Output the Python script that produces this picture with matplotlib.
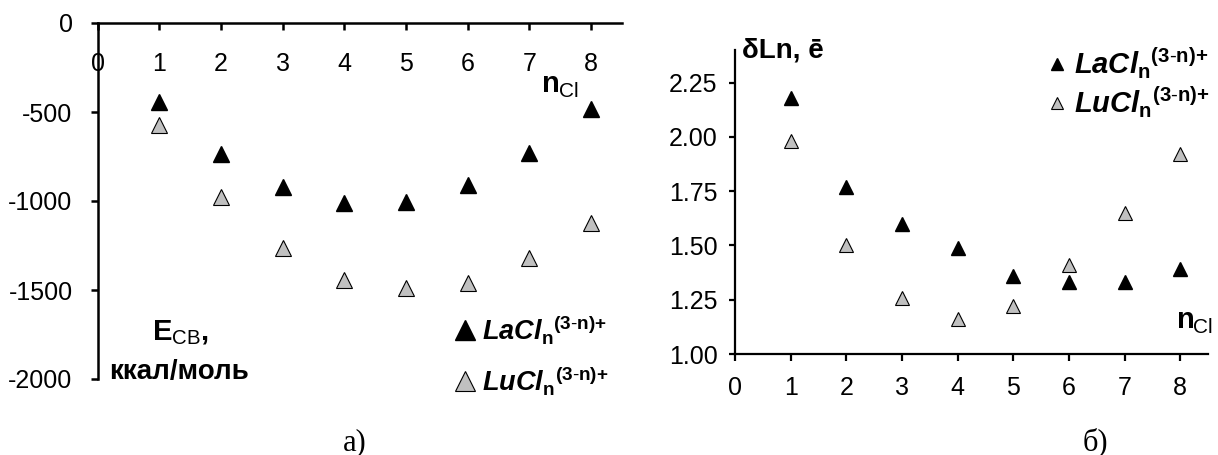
import matplotlib
matplotlib.use("Agg")
import matplotlib.pyplot as plt
from matplotlib.ticker import FormatStrFormatter

plt.rcParams['font.family'] = ['Liberation Sans', 'DejaVu Sans']
plt.rcParams['axes.unicode_minus'] = False
plt.rcParams['mathtext.fontset'] = 'custom'
plt.rcParams['mathtext.rm'] = 'Liberation Sans'
plt.rcParams['mathtext.bf'] = 'Liberation Sans:bold'
plt.rcParams['mathtext.it'] = 'Liberation Sans:italic'
plt.rcParams['mathtext.bfit'] = 'Liberation Sans:italic:bold'

# данные
n_cl = [1, 2, 3, 4, 5, 6, 7, 8]
e_la = [-445, -735, -921, -1013, -1006, -910, -729, -484]
e_lu = [-574, -976, -1265, -1443, -1490, -1462, -1318, -1121]
q_la = [2.18, 1.77, 1.60, 1.49, 1.36, 1.33, 1.33, 1.39]
q_lu = [1.98, 1.50, 1.26, 1.16, 1.22, 1.41, 1.65, 1.92]
x_ticks = [0, 1, 2, 3, 4, 5, 6, 7, 8]
e_ticks = [0, -500, -1000, -1500, -2000]
q_ticks = [1.00, 1.25, 1.50, 1.75, 2.00, 2.25]

lab_la = r'$\mathbfit{LaCl}_{\mathbf{n}}{}^{\mathbf{(3\text{-}n){+}}}$'
lab_lu = r'$\mathbfit{LuCl}_{\mathbf{n}}{}^{\mathbf{(3\text{-}n){+}}}$'

W, H = 1218, 455
fig = plt.figure(figsize=(W / 100, H / 100), dpi=100)

def px(x, y):
    return x / W, 1 - y / H

gray = '#c0c0c0'

# а) энергия связи
ax1 = fig.add_axes([97.5 / W, (H - 379) / H, (622 - 97.5) / W, (379 - 23) / H])
ax1.plot(n_cl, e_la, '^', ms=12, color='black', mec='black', label=lab_la)
ax1.plot(n_cl, e_lu, '^', ms=12, color=gray, mec='black', mew=0.8, label=lab_lu)
ax1.set_xlim(0, 8.5)
ax1.set_ylim(-2000, 0)
ax1.spines['top'].set_visible(False)
ax1.spines['right'].set_visible(False)
ax1.spines['bottom'].set_position(('data', 0))
for s in ['left', 'bottom']:
    ax1.spines[s].set_linewidth(1.8)
ax1.set_xticks(x_ticks)
ax1.set_yticks(e_ticks)
ax1.tick_params(axis='x', direction='out', length=5, width=1.8, pad=16, labelsize=18)
ax1.tick_params(axis='y', direction='out', length=5, width=1.8, pad=13, labelsize=18)
ax1.legend(loc='upper left', bbox_to_anchor=px(455, 313), bbox_transform=fig.transFigure,
           frameon=False, fontsize=19.5, markerscale=1.15, handlelength=0.75,
           handletextpad=0.25, labelspacing=0.65, borderpad=0, borderaxespad=0)

fig.text(*px(542, 92), 'n', fontsize=21, fontweight='bold')
fig.text(*px(559, 97), 'Cl', fontsize=15)
fig.text(*px(181, 340), r'$\mathbf{E}_{\mathrm{CB}}\mathbf{,}$', fontsize=21, ha='center')
fig.text(*px(179, 379), 'ккал/моль', fontsize=20, fontweight='bold', ha='center')
fig.text(*px(355, 450), 'а)', fontsize=22, family='Liberation Serif', ha='center')

# б) заряд
ax2 = fig.add_axes([735 / W, (H - 354) / H, (1208 - 735) / W, (354 - 50) / H])
ax2.plot(n_cl, q_la, '^', ms=10, color='black', mec='black', label=lab_la)
ax2.plot(n_cl, q_lu, '^', ms=10, color=gray, mec='black', mew=0.8, label=lab_lu)
ax2.set_xlim(0, 8.5)
ax2.set_ylim(1.0, 2.4)
ax2.spines['top'].set_visible(False)
ax2.spines['right'].set_visible(False)
for s in ['left', 'bottom']:
    ax2.spines[s].set_linewidth(1.6)
ax2.set_xticks(x_ticks)
ax2.set_yticks(q_ticks)
ax2.yaxis.set_major_formatter(FormatStrFormatter('%.2f'))
ax2.tick_params(axis='x', direction='out', length=5, width=1.6, pad=11, labelsize=18)
ax2.tick_params(axis='y', direction='out', length=4.5, width=1.6, pad=8, labelsize=18)
ax2.legend(loc='upper left', bbox_to_anchor=px(1048, 46), bbox_transform=fig.transFigure,
           frameon=False, fontsize=21, markerscale=0.8, handlelength=0.6,
           handletextpad=0.3, labelspacing=0.12, borderpad=0, borderaxespad=0)

fig.text(*px(742, 57), 'δLn, ē', fontsize=20, fontweight='bold')
fig.text(*px(1177, 328), 'n', fontsize=21, fontweight='bold')
fig.text(*px(1193, 333), 'Cl', fontsize=15)
fig.text(*px(1095, 450), 'б)', fontsize=22, family='Liberation Serif', ha='center')

fig.savefig('out.png', dpi=100)
